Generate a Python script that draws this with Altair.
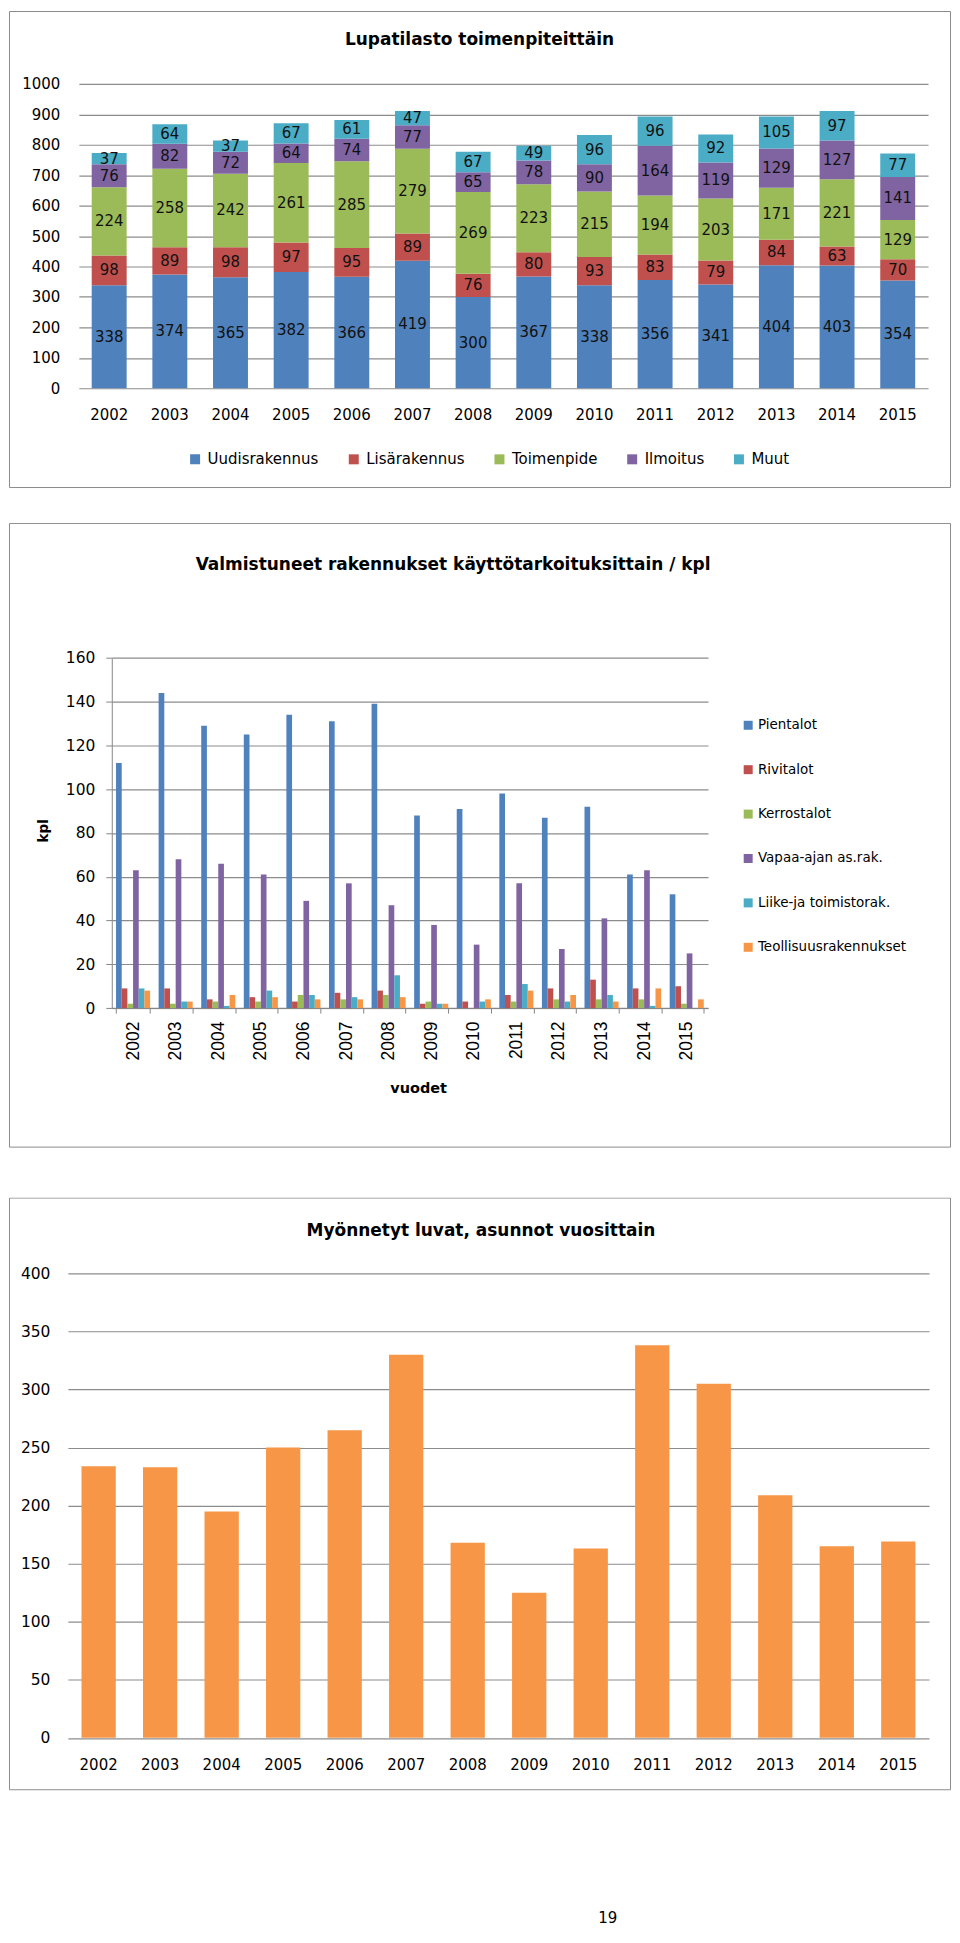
import altair as alt
import pandas as pd

years = [str(y) for y in range(2002, 2016)]

# ---- Chart 1: Lupatilasto toimenpiteittäin (stacked) ----
lupa_title = "Lupatilasto toimenpiteittäin"
lupa_series = ["Uudisrakennus", "Lisärakennus", "Toimenpide", "Ilmoitus", "Muut"]
uudis = [338, 374, 365, 382, 366, 419, 300, 367, 338, 356, 341, 404, 403, 354]
lisa = [98, 89, 98, 97, 95, 89, 76, 80, 93, 83, 79, 84, 63, 70]
toimen = [224, 258, 242, 261, 285, 279, 269, 223, 215, 194, 203, 171, 221, 129]
ilmoitus = [76, 82, 72, 64, 74, 77, 65, 78, 90, 164, 119, 129, 127, 141]
muut = [37, 64, 37, 67, 61, 47, 67, 49, 96, 96, 92, 105, 97, 77]
lupa_colors = ["#4F81BD", "#C0504D", "#9BBB59", "#8064A2", "#4BACC6"]

# ---- Chart 2: Valmistuneet rakennukset ----
valm_title = "Valmistuneet rakennukset käyttötarkoituksittain / kpl"
valm_series = ["Pientalot", "Rivitalot", "Kerrostalot", "Vapaa-ajan as.rak.",
               "Liike-ja toimistorak.", "Teollisuusrakennukset"]
pientalot = [112, 144, 129, 125, 134, 131, 139, 88, 91, 98, 87, 92, 61, 52]
rivitalot = [9, 9, 4, 5, 3, 7, 8, 2, 3, 6, 9, 13, 9, 10]
kerrostalot = [2, 2, 3, 3, 6, 4, 6, 3, 0, 3, 4, 4, 4, 2]
vapaa = [63, 68, 66, 61, 49, 57, 47, 38, 29, 57, 27, 41, 63, 25]
liike = [9, 3, 1, 8, 6, 5, 15, 2, 3, 11, 3, 6, 1, 0]
teoll = [8, 3, 6, 5, 4, 4, 5, 2, 4, 8, 6, 3, 9, 4]
valm_colors = ["#4F81BD", "#C0504D", "#9BBB59", "#8064A2", "#4BACC6", "#F79646"]

# ---- Chart 3: Myönnetyt luvat ----
asunnot_title = "Myönnetyt luvat, asunnot vuosittain"
asunnot = [234, 233, 195, 250, 265, 330, 168, 125, 163, 338, 305, 209, 165, 169]
page_number = "19"

FONT = "DejaVu Sans"
GRID = "#8c8c8c"
FRAME = "#8c8c8c"
W = 944

rows = []
lupa_vals = [uudis, lisa, toimen, ilmoitus, muut]
for i, y in enumerate(years):
    base = 0
    for k, s in enumerate(lupa_series):
        v = lupa_vals[k][i]
        rows.append({"year": y, "series": s, "value": v,
                     "y0": base, "y1": base + v, "mid": base + v / 2})
        base += v
df1 = pd.DataFrame(rows)

valm_vals = [pientalot, rivitalot, kerrostalot, vapaa, liike, teoll]
rows = []
for i, y in enumerate(years):
    for k, s in enumerate(valm_series):
        rows.append({"year": y, "series": s, "value": valm_vals[k][i]})
df2 = pd.DataFrame(rows)

df3 = pd.DataFrame({"year": years, "value": asunnot})
one = pd.DataFrame({"a": [0]})


def frame(h):
    return alt.Chart(one).mark_rect(filled=False, stroke=FRAME, strokeWidth=1).encode(
        x=alt.value(0.5), x2=alt.value(W - 0.5), y=alt.value(0.5), y2=alt.value(h - 0.5))


def title_text(text, x, y):
    return alt.Chart(one).mark_text(font=FONT, fontSize=17, fontWeight="bold", color="#000",
                                    baseline="middle", align="center").encode(
        x=alt.value(x), y=alt.value(y), text=alt.value(text))


# ---------- Panel 1 ----------
H1 = 512.5
x1_scale = alt.Scale(range=[70, 921], paddingInner=0.424, paddingOuter=0.212)
x1_axis = alt.Axis(orient="bottom", offset=378 - H1, domain=False, ticks=False, tickSize=0,
                   labelPadding=26, labelBaseline="middle", labelAngle=0, labelFont=FONT,
                   labelFontSize=15, labelColor="#000", grid=False, title=None)
y1_scale = alt.Scale(domain=[0, 1000], range=[378, 73], nice=False, zero=True)
y1_axis = alt.Axis(values=list(range(0, 1001, 100)), format="d", offset=-70, domain=False,
                   ticks=False, tickSize=0, labelPadding=19, labelFont=FONT, labelFontSize=15,
                   labelColor="#000", grid=True, gridColor=GRID, gridWidth=1.2, title=None)
bars1 = alt.Chart(df1).mark_bar().encode(
    x=alt.X("year:N", scale=x1_scale, axis=x1_axis),
    y=alt.Y("y0:Q", scale=y1_scale, axis=y1_axis),
    y2="y1:Q",
    color=alt.Color("series:N", sort=lupa_series,
                    scale=alt.Scale(domain=lupa_series, range=lupa_colors),
                    legend=alt.Legend(title=None, orient="none", legendX=179, legendY=441.5,
                                      direction="horizontal", symbolType="square", symbolSize=100,
                                      symbolStrokeWidth=0, labelFont=FONT, labelFontSize=15,
                                      labelColor="#000", columnPadding=27, labelOffset=5,
                                      padding=0, labelLimit=300)),
)
text1 = alt.Chart(df1).mark_text(font=FONT, fontSize=15, color="#111", baseline="middle").encode(
    x=alt.X("year:N", scale=x1_scale, axis=x1_axis),
    y=alt.Y("mid:Q", scale=y1_scale, axis=y1_axis),
    text="value:Q",
)
c1 = alt.layer(frame(478), bars1, text1, title_text(lupa_title, 471.5, 29)).properties(
    width=W, height=H1)

# ---------- Panel 2 ----------
H2 = 675.5
PB2 = 486.2
x2 = alt.X("year:N", scale=alt.Scale(range=[103, 700.5], paddingInner=0.2, paddingOuter=0.1),
           axis=alt.Axis(orient="bottom", offset=PB2 - H2, domain=True, domainColor="#868686",
                         ticks=True, tickSize=5, tickColor="#868686", tickBand="extent",
                         labelAngle=270, labelPadding=8, labelFont="Liberation Sans",
                         labelFontSize=17.5, labelColor="#000", grid=False,
                         title="vuodet", titleFont=FONT, titleFontSize=14.5,
                         titleFontWeight="bold", titleColor="#000", titleX=410, titleY=80.3,
                         titleBaseline="middle", titleAlign="center"))
bars2 = alt.Chart(df2).mark_bar().encode(
    x=x2,
    xOffset=alt.XOffset("series:N", sort=valm_series,
                        scale=alt.Scale(domain=valm_series, paddingInner=0, paddingOuter=0)),
    y=alt.Y("value:Q", scale=alt.Scale(domain=[0, 160], range=[PB2, 135.2], nice=False),
            axis=alt.Axis(values=list(range(0, 161, 20)), offset=-103, domain=True,
                          domainColor="#868686", ticks=True, tickSize=6, tickColor="#868686",
                          labelPadding=11, labelFont=FONT, labelFontSize=15.5, labelColor="#000",
                          grid=True, gridColor=GRID, gridWidth=1.2,
                          title="kpl", titleFont=FONT, titleFontSize=13.5, titleFontWeight="bold",
                          titleColor="#000", titleX=-68, titleY=308, titleAngle=270,
                          titleBaseline="middle", titleAlign="center")),
    color=alt.Color("series:N", sort=valm_series,
                    scale=alt.Scale(domain=valm_series, range=valm_colors),
                    legend=alt.Legend(title=None, orient="none", legendX=734, legendY=196,
                                      direction="vertical", symbolType="square", symbolSize=81,
                                      symbolStrokeWidth=0, labelFont=FONT, labelFontSize=13.5,
                                      labelColor="#000", rowPadding=29.5, labelOffset=3,
                                      padding=0, labelLimit=300)),
)
c2 = alt.layer(frame(626), bars2, title_text(valm_title, 445, 42.5)).properties(
    width=W, height=H2)

# ---------- Panel 3 ----------
H3 = 733
PB3 = 541.5
bars3 = alt.Chart(df3).mark_bar(color="#F79646").encode(
    x=alt.X("year:N", scale=alt.Scale(range=[59, 922], paddingInner=0.443, paddingOuter=0.2215),
            axis=alt.Axis(orient="bottom", offset=PB3 - H3, domain=False, ticks=False, tickSize=0,
                          labelPadding=26.5, labelBaseline="middle", labelAngle=0, labelFont=FONT,
                          labelFontSize=15, labelColor="#000", grid=False, title=None)),
    y=alt.Y("value:Q", scale=alt.Scale(domain=[0, 400], range=[PB3, 76], nice=False),
            axis=alt.Axis(values=list(range(0, 401, 50)), offset=-59, domain=False, ticks=False,
                          tickSize=0, labelPadding=18, labelFont=FONT, labelFontSize=15.5,
                          labelColor="#000", grid=True, gridColor=GRID, gridWidth=1.2, title=None)),
)
page_no = alt.Chart(one).mark_text(font=FONT, fontSize=15, color="#000", baseline="middle").encode(
    x=alt.value(600), y=alt.value(722), text=alt.value(page_number))
c3 = alt.layer(frame(594), bars3, page_no, title_text(asunnot_title, 473, 34)).properties(
    width=W, height=H3)

chart = alt.vconcat(c1, c2, c3, spacing=0, bounds="flush").resolve_scale(
    color="independent").properties(padding=0).configure_view(stroke="transparent", clip=True)

chart.save("out.html", embed_options={"renderer": "svg", "actions": False})
